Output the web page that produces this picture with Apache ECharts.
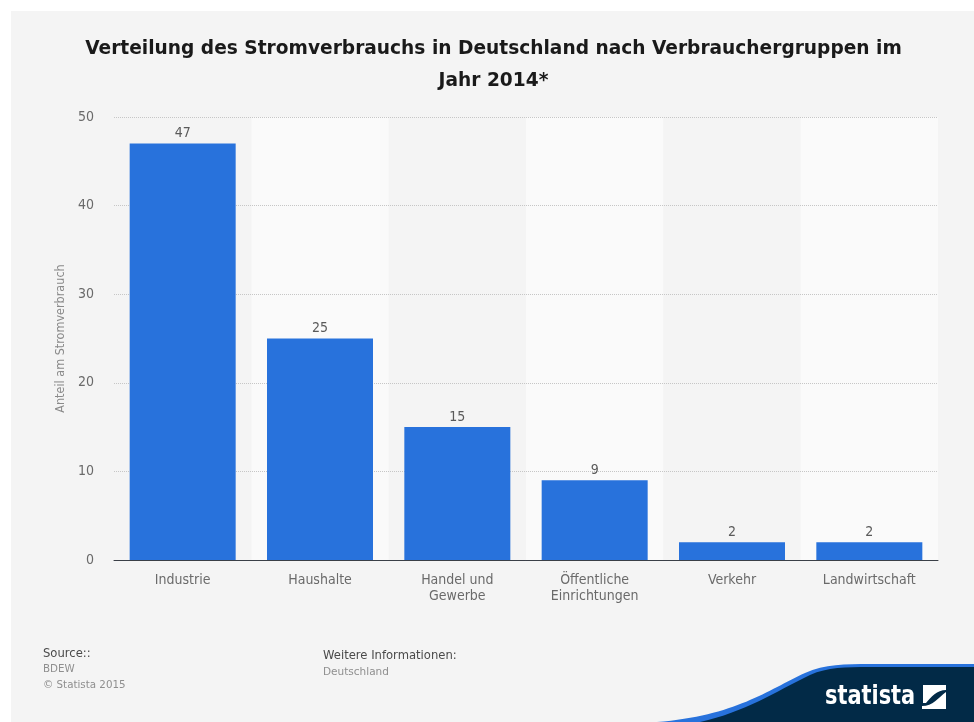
<!DOCTYPE html>
<html>
<head>
<meta charset="utf-8">
<style>html,body{margin:0;padding:0;background:#fff}#chart{width:974px;height:722px}</style>
<script src="https://cdn.jsdelivr.net/npm/echarts@6/dist/echarts.min.js"></script>
</head>
<body>
<div id="chart"></div>
<script>
const categories = ['Industrie', 'Haushalte', 'Handel und\nGewerbe', 'Öffentliche\nEinrichtungen', 'Verkehr', 'Landwirtschaft'];
const shares = [47, 25, 15, 9, 2, 2];
const yTicks = { min: 0, max: 50, interval: 10 };
const titleLines = ['Verteilung des Stromverbrauchs in Deutschland nach Verbrauchergruppen im', 'Jahr 2014*'];
const yAxisName = 'Anteil am Stromverbrauch';

const FONT = '"DejaVu Sans", sans-serif';
const NARROW = '"DejaVu Sans Condensed", "DejaVu Sans", sans-serif';

// Brand artwork is registered as named shapes so the graphic component can place it.
const registerArt = (name, d) => echarts.graphic.registerShape(name, echarts.graphic.extendPath(d, {}));
registerArt('swooshLight', 'M657 722 C735 716 768 690 805 673 C825 664 845 664 870 664 L974 664 L974 722 Z');
registerArt('swooshDark', 'M700 722 C745 712 775 692 810 675 C828 667 845 667 870 667 L974 667 L974 722 Z');
registerArt('brandMark', 'M923 685 L946 685 L946 690 C937 690 931 697 926 703 L923 703 Z M946 692 L946 709 L922 709 L922 706 C933 706 938 698 946 692 Z');

const chart = echarts.init(document.getElementById('chart'), null, { renderer: 'canvas' });

chart.setOption({
  animation: false,
  backgroundColor: '#ffffff',
  grid: { left: 114, right: 36, top: 117, bottom: 162 },
  xAxis: {
    type: 'category',
    data: categories,
    z: 0,
    axisTick: { show: false },
    axisLine: { lineStyle: { color: '#3a3f47', width: 1 } },
    axisLabel: { interval: 0, margin: 12, fontFamily: NARROW, fontSize: 14, lineHeight: 16, color: '#6a6a6a' },
    splitArea: { show: true, areaStyle: { color: ['rgba(0,0,0,0)', '#fafafa'] } }
  },
  yAxis: {
    type: 'value',
    z: 1,
    min: yTicks.min, max: yTicks.max, interval: yTicks.interval,
    name: yAxisName,
    nameLocation: 'middle', nameGap: 46,
    nameTextStyle: { fontFamily: NARROW, fontSize: 12.5, color: '#8a8a8a' },
    axisLine: { show: false },
    axisTick: { show: false },
    axisLabel: { margin: 20, fontFamily: NARROW, fontSize: 14, color: '#6a6a6a' },
    splitLine: { showMinLine: false, lineStyle: { color: '#c6c6c6', type: 'dotted', width: 1 } }
  },
  series: [{
    type: 'bar',
    data: shares,
    barWidth: 106,
    itemStyle: { color: '#2872dc' },
    label: { show: true, position: 'top', distance: 3, fontFamily: NARROW, fontSize: 14, color: '#5a5a5a' },
    z: 3
  }],
  graphic: [
    // card behind the chart
    { type: 'rect', z: -10, silent: true, shape: { x: 11, y: 11, width: 963, height: 711 }, style: { fill: '#f4f4f4' } },
    // two-line heading
    { type: 'text', x: 493.5, y: 40, style: { text: titleLines[0], align: 'center', fontFamily: FONT, fontWeight: 'bold', fontSize: 18.6, fill: '#1a1a1a' } },
    { type: 'text', x: 493.5, y: 72, style: { text: titleLines[1], align: 'center', fontFamily: FONT, fontWeight: 'bold', fontSize: 18.6, fill: '#1a1a1a' } },
    // footer notes
    { type: 'text', x: 43, y: 648, style: { text: 'Source::', fontFamily: FONT, fontSize: 11.6, fill: '#4a4a4a' } },
    { type: 'text', x: 43, y: 664, style: { text: 'BDEW', fontFamily: FONT, fontSize: 10.3, fill: '#8f8f8f' } },
    { type: 'text', x: 43, y: 680, style: { text: '© Statista 2015', fontFamily: FONT, fontSize: 10.3, fill: '#8f8f8f' } },
    { type: 'text', x: 323, y: 650, style: { text: 'Weitere Informationen:', fontFamily: FONT, fontSize: 11.6, fill: '#4a4a4a' } },
    { type: 'text', x: 323, y: 667, style: { text: 'Deutschland', fontFamily: FONT, fontSize: 10.5, fill: '#8f8f8f' } },
    // brand swoosh, lower right
    { type: 'swooshLight', z: 5, silent: true, shape: {}, style: { fill: '#2872dc' } },
    { type: 'swooshDark', z: 6, silent: true, shape: {}, style: { fill: '#022a47' } },
    { type: 'text', z: 7, x: 825, y: 683, scaleX: 0.86, style: { text: 'statista', fontFamily: NARROW, fontWeight: 'bold', fontSize: 27, fill: '#ffffff' } },
    { type: 'brandMark', z: 7, silent: true, shape: {}, style: { fill: '#ffffff' } }
  ]
});
</script>
</body>
</html>
